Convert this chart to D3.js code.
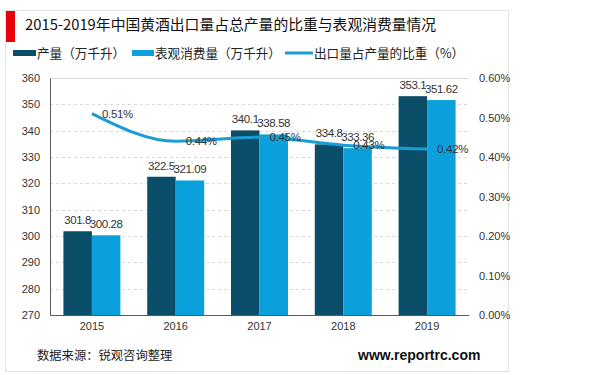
<!DOCTYPE html>
<html>
<head>
<meta charset="utf-8">
<script src="https://cdn.jsdelivr.net/npm/d3@7"></script>
<style>
  body { margin: 0; background: #fff; }
  text { font-family: "Liberation Sans", Arial, "Noto Sans CJK SC", sans-serif; }
</style>
</head>
<body>
<svg id="chart"></svg>
<script>
const years = ["2015", "2016", "2017", "2018", "2019"];
const production = [301.8, 322.5, 340.1, 334.8, 353.1];
const consumption = [300.28, 321.09, 338.58, 333.36, 351.62];
const exportShare = [0.51, 0.44, 0.45, 0.43, 0.42];
const leftTicks = [270, 280, 290, 300, 310, 320, 330, 340, 350, 360];
const rightTicks = [0, 0.1, 0.2, 0.3, 0.4, 0.5, 0.6];

const width = 600, height = 375;
const margin = { top: 78, right: 131, bottom: 60, left: 50 };
const cjk = '"Noto Sans CJK SC", sans-serif';

const svg = d3.select("#chart").attr("width", width).attr("height", height);

// outer frame + red marker
svg.append("rect").attr("x", 5.5).attr("y", 10.5).attr("width", 503).attr("height", 361)
    .attr("fill", "none").attr("stroke", "#e3e3e3");
svg.append("rect").attr("x", 6).attr("y", 11).attr("width", 9).attr("height", 31).attr("fill", "#e8000b");

svg.append("text").attr("x", 25).attr("y", 30).attr("font-size", "14.8px").attr("fill", "#111")
    .style("font-family", cjk)
    .text("2015-2019年中国黄酒出口量占总产量的比重与表观消费量情况");

const x = d3.scaleBand().domain(years).range([margin.left, width - margin.right]).paddingInner(0.32).paddingOuter(0.16);
const x1 = d3.scaleBand().domain([0, 1]).range([0, x.bandwidth()]);
const y = d3.scaleLinear().domain([270, 360]).range([height - margin.bottom, margin.top]);
const y2 = d3.scaleLinear().domain([0, 0.6]).range([height - margin.bottom, margin.top]);

// grid
svg.append("g").selectAll("line").data(leftTicks.slice(1)).enter().append("line")
    .attr("x1", margin.left).attr("x2", width - margin.right)
    .attr("y1", d => Math.round(y(d)) + 0.5).attr("y2", d => Math.round(y(d)) + 0.5)
    .attr("stroke", "#d9d9d9").attr("stroke-dasharray", d => d === 360 ? null : "3,3");

// bars
const colors = ["#0b4e6a", "#0ba0dc"];
[production, consumption].forEach((series, s) => {
    svg.append("g").selectAll("rect").data(series).enter().append("rect")
        .attr("x", (d, i) => x(years[i]) + x1(s))
        .attr("y", d => y(d))
        .attr("width", x1.bandwidth())
        .attr("height", d => y(270) - y(d))
        .attr("fill", colors[s]);
    svg.append("g").selectAll("text").data(series).enter().append("text")
        .attr("x", (d, i) => x(years[i]) + x1(s) + x1.bandwidth() / 2)
        .attr("y", d => y(d) - 7)
        .attr("text-anchor", "middle").attr("font-size", "11.5px").attr("letter-spacing", "-0.4px").attr("fill", "#333")
        .text(d => d);
});

// axes
svg.append("g").attr("transform", `translate(${margin.left},0)`)
    .call(d3.axisLeft(y).tickValues(leftTicks).tickSize(0).tickPadding(10))
    .call(g => g.select(".domain").attr("stroke", "#595959"))
    .call(g => g.selectAll("text").attr("font-size", "11px").attr("fill", "#333"));

svg.append("g").attr("transform", `translate(0,${height - margin.bottom})`)
    .call(d3.axisBottom(x).tickSize(0).tickPadding(7))
    .call(g => g.select(".domain").attr("stroke", "#595959"))
    .call(g => g.selectAll("text").attr("font-size", "11px").attr("fill", "#333"));

svg.append("g").attr("transform", `translate(${width - margin.right},0)`)
    .call(d3.axisRight(y2).tickValues(rightTicks).tickSize(0).tickPadding(10).tickFormat(d => d.toFixed(2) + "%"))
    .call(g => g.select(".domain").remove())
    .call(g => g.selectAll("text").attr("font-size", "11px").attr("fill", "#333"));

// line
const linePts = exportShare.map((d, i) => [x(years[i]) + x.bandwidth() / 2, y2(d)]);
svg.append("path").datum(linePts)
    .attr("fill", "none").attr("stroke", "#1a9dd0").attr("stroke-width", 3)
    .attr("d", d3.line().curve(d3.curveMonotoneX));
svg.append("g").selectAll("text").data(exportShare).enter().append("text")
    .attr("x", (d, i) => linePts[i][0] + 10)
    .attr("y", d => y2(d) + 4)
    .attr("font-size", "11.5px").attr("letter-spacing", "-0.3px").attr("fill", "#333")
    .text(d => d.toFixed(2) + "%");

// legend
const legend = [
    { label: "产量（万千升）", color: colors[0], x: 13, w: 23, h: 6 },
    { label: "表观消费量（万千升）", color: colors[1], x: 132, w: 22, h: 6 },
    { label: "出口量占产量的比重（%）", color: "#1a9dd0", x: 285, w: 28, h: 3 }
];
legend.forEach(l => {
    svg.append("rect").attr("x", l.x).attr("y", 53 - l.h / 2).attr("width", l.w).attr("height", l.h).attr("fill", l.color);
    svg.append("text").attr("x", l.x + l.w + 1).attr("y", 58).attr("font-size", "12.6px").attr("fill", "#222")
        .style("font-family", cjk).text(l.label);
});

// footer
svg.append("text").attr("x", 37).attr("y", 360).attr("font-size", "12.3px").attr("fill", "#222")
    .style("font-family", cjk).text("数据来源：锐观咨询整理");
svg.append("text").attr("x", 358).attr("y", 360).attr("font-size", "14px").attr("font-weight", "bold").attr("fill", "#111")
    .text("www.reportrc.com");
</script>
</body>
</html>
